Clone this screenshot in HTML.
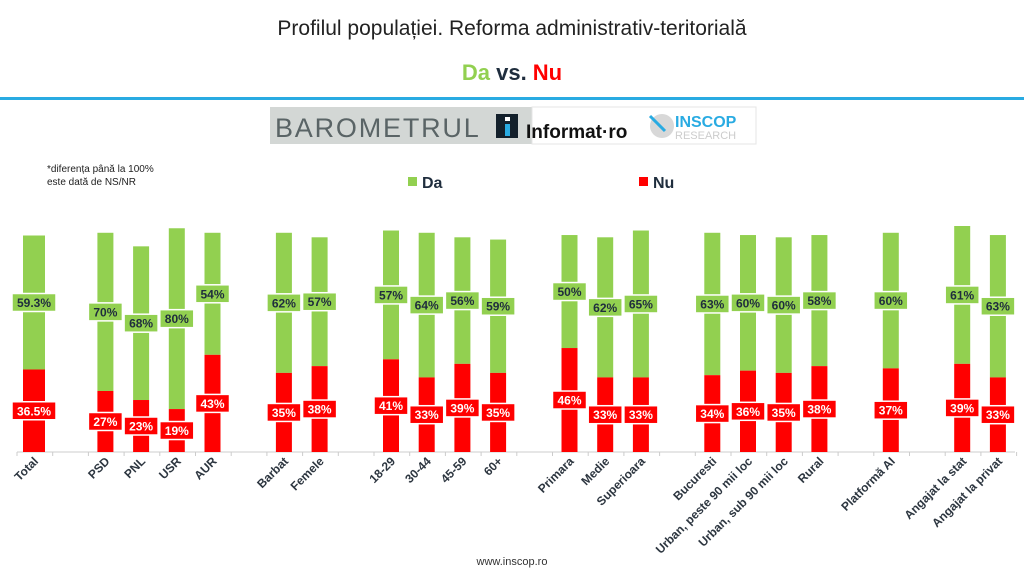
<!DOCTYPE html>
<html><head><meta charset="utf-8"><style>
body{margin:0;width:1024px;height:576px;background:#fff;overflow:hidden;font-family:"Liberation Sans",sans-serif}
</style></head><body>
<svg width="1024" height="576" xmlns="http://www.w3.org/2000/svg" font-family="Liberation Sans, sans-serif">
<text x="512" y="35" text-anchor="middle" font-size="21" fill="#222">Profilul populației. Reforma administrativ-teritorială</text>
<text x="512" y="80" text-anchor="middle" font-size="22" font-weight="bold"><tspan fill="#92d050">Da</tspan><tspan fill="#1f2d3d"> vs. </tspan><tspan fill="#ff0000">Nu</tspan></text>
<rect x="0" y="97" width="1024" height="3" fill="#29abe2"/>
<rect x="270" y="107" width="262" height="37" fill="#d3d7d5"/>
<text x="275" y="137" font-size="27" fill="#5a6466" letter-spacing="1.8">BAROMETRUL</text>
<rect x="496" y="114" width="22" height="24" fill="#13202b"/>
<rect x="505" y="124" width="5" height="12" fill="#29abe2"/>
<rect x="505" y="117" width="5" height="4" fill="#fff"/>
<rect x="532" y="107" width="224" height="37" fill="#fff" stroke="#e5e5e5"/>
<text x="526" y="138" font-size="19" font-weight="bold" fill="#111">Informat·ro</text>
<circle cx="662" cy="126" r="12" fill="#d8d8d8"/>
<line x1="650" y1="116" x2="665" y2="131" stroke="#29abe2" stroke-width="3"/>
<text x="675" y="127" font-size="16" font-weight="bold" fill="#29abe2">INSCOP</text>
<text x="675" y="139" font-size="11" fill="#ccc">RESEARCH</text>
<text x="47" y="172" font-size="10" fill="#222">*diferența până la 100%</text>
<text x="47" y="185" font-size="10" fill="#222">este dată de NS/NR</text>
<rect x="408" y="177" width="9" height="9" fill="#92d050"/>
<text x="422" y="188" font-size="16" font-weight="bold" fill="#1f2d3d">Da</text>
<rect x="639" y="177" width="9" height="9" fill="#ff0000"/>
<text x="653" y="188" font-size="16" font-weight="bold" fill="#1f2d3d">Nu</text>
<line x1="17" y1="452" x2="1015" y2="452" stroke="#ccc"/>
<g id="bars"></g>
<text x="512" y="565" text-anchor="middle" font-size="11" fill="#333">www.inscop.ro</text>
</svg>
<script>
var d=[[0,"Total",59.3,36.5,"59.3%","36.5%"],[2,"PSD",70,27],[3,"PNL",68,23],[4,"USR",80,19],[5,"AUR",54,43],[7,"Barbat",62,35],[8,"Femele",57,38],[10,"18-29",57,41],[11,"30-44",64,33],[12,"45-59",56,39],[13,"60+",59,35],[15,"Primara",50,46],[16,"Medie",62,33],[17,"Superioara",65,33],[19,"Bucuresti",63,34],[20,"Urban, peste 90 mii loc",60,36],[21,"Urban, sub 90 mii loc",60,35],[22,"Rural",58,38],[24,"Platformă AI",60,37],[26,"Angajat la stat",61,39],[27,"Angajat la privat",63,33]];
var s=2.26,B=452,h='';
for(var k=0;k<=28;k++){var tx=17+k*35.7;h+='<line x1="'+tx+'" y1="452" x2="'+tx+'" y2="456" stroke="#ccc"/>';}
d.forEach(function(r){var c=34+r[0]*35.7,w=r[0]==0?22:16,x=c-w/2;
var rn=r[3]*s,gn=r[2]*s,ry=B-rn,gy=ry-gn;
h+='<rect x="'+x+'" y="'+gy+'" width="'+w+'" height="'+gn+'" fill="#92d050"/>';
h+='<rect x="'+x+'" y="'+ry+'" width="'+w+'" height="'+rn+'" fill="#ff0000"/>';
var gl=r[4]||(r[2]+'%'),rl=r[5]||(r[3]+'%'),bw=gl.length>3?44:34;
var gm=gy+gn/2,rm=ry+rn/2;
h+='<rect x="'+(c-bw/2)+'" y="'+(gm-9)+'" width="'+bw+'" height="18" fill="#92d050" stroke="#fff" stroke-width="1.5"/>';
h+='<text x="'+c+'" y="'+(gm+4.5)+'" text-anchor="middle" font-size="12" font-weight="bold" fill="#1f2d3d">'+gl+'</text>';
h+='<rect x="'+(c-bw/2)+'" y="'+(rm-9)+'" width="'+bw+'" height="18" fill="#ff0000" stroke="#fff" stroke-width="1.5"/>';
h+='<text x="'+c+'" y="'+(rm+4.5)+'" text-anchor="middle" font-size="12" font-weight="bold" fill="#fff">'+rl+'</text>';
h+='<text transform="translate('+(c+5)+',462) rotate(-45)" text-anchor="end" font-size="12" font-weight="bold" fill="#2d3640">'+r[1]+'</text>';
});
document.getElementById('bars').innerHTML=h;
</script>
</body></html>
